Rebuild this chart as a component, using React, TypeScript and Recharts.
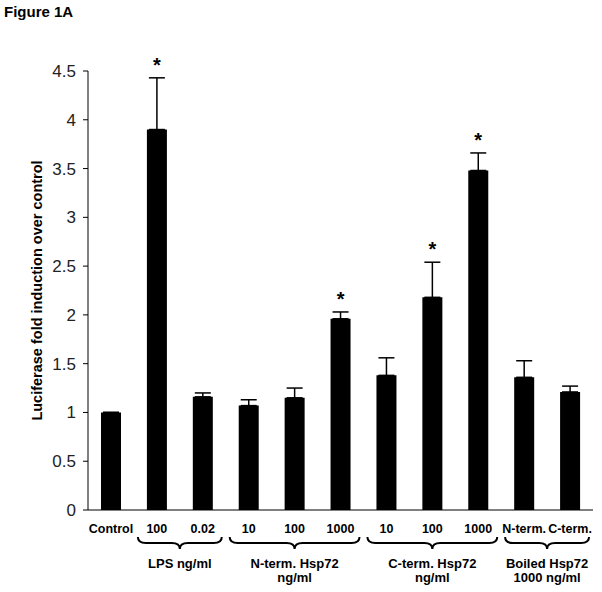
import { BarChart, Bar, XAxis, YAxis, ErrorBar, LabelList, Label } from "recharts";

const categories = ["Control", "100", "0.02", "10", "100", "1000", "10", "100", "1000", "N-term.", "C-term."];
const means = [1.0, 3.9, 1.16, 1.07, 1.15, 1.96, 1.38, 2.18, 3.48, 1.36, 1.21];
const errors = [0, 0.53, 0.04, 0.06, 0.1, 0.07, 0.18, 0.36, 0.18, 0.17, 0.06];
const significant = [false, true, false, false, false, true, false, true, true, false, false];

const groups = [
  { first: 1, last: 2, lines: ["LPS ng/ml"] },
  { first: 3, last: 5, lines: ["N-term. Hsp72", "ng/ml"] },
  { first: 6, last: 8, lines: ["C-term. Hsp72", "ng/ml"] },
  { first: 9, last: 10, lines: ["Boiled Hsp72", "1000 ng/ml"] },
];

const yTicks = [0, 0.5, 1, 1.5, 2, 2.5, 3, 3.5, 4, 4.5];

const FONT = "Arial, 'Liberation Sans', sans-serif";
const W = 602;
const H = 592;
const M = { top: 71, right: 9, bottom: 2, left: 0 };
const Y_AXIS_W = 88;
const STEP = (W - M.left - M.right - Y_AXIS_W) / categories.length;

const data = categories.map((c, i) => ({
  id: i,
  name: c,
  mean: means[i],
  err: [0, errors[i]],
}));

function Brace({ x1, x2, y }: { x1: number; x2: number; y: number }) {
  const cx = (x1 + x2) / 2;
  const mid = y + 6;
  const tip = y + 12;
  const r = 8;
  const d = `M${x1},${y} Q${x1},${mid} ${x1 + r},${mid} L${cx - r},${mid} Q${cx},${mid} ${cx},${tip} Q${cx},${mid} ${cx + r},${mid} L${x2 - r},${mid} Q${x2},${mid} ${x2},${y}`;
  return <path d={d} fill="none" stroke="#000" strokeWidth={2} />;
}

function CategoryTick(props: any) {
  const { x, y, payload } = props;
  const i = payload.index ?? payload.value;
  const g = groups.find((gr) => gr.first === i);
  return (
    <g>
      <text x={x} y={y + 23} textAnchor="middle" fontFamily={FONT} fontWeight="bold" fontSize={12.5} fill="#000">
        {categories[i]}
      </text>
      {g && (
        <g>
          <Brace x1={x - 19} x2={x + (g.last - g.first) * STEP + 19} y={y + 27} />
          {g.lines.map((line, k) => (
            <text
              key={k}
              x={x + ((g.last - g.first) * STEP) / 2}
              y={y + 58 + k * 14}
              textAnchor="middle"
              fontFamily={FONT}
              fontWeight="bold"
              fontSize={13}
              fill="#000"
            >
              {line}
            </text>
          ))}
        </g>
      )}
    </g>
  );
}

function Star(props: any) {
  const { x, y, width, height, value, index } = props;
  if (!significant[index]) return null;
  const perUnit = height / value;
  const top = y - errors[index] * perUnit;
  return (
    <text x={x + width / 2} y={top - 6} textAnchor="middle" fontFamily={FONT} fontWeight="bold" fontSize={20} fill="#000">
      *
    </text>
  );
}

export default function App() {
  return (
    <div style={{ position: "absolute", left: 0, top: 0, width: W, height: H, background: "#fff" }}>
      <div
        style={{
          position: "absolute",
          left: 4,
          top: 3,
          fontFamily: FONT,
          fontWeight: "bold",
          fontSize: 15,
          color: "#000",
        }}
      >
        Figure 1A
      </div>
      <BarChart width={W} height={H} data={data} margin={M} barSize={20}>
        <XAxis
          dataKey="id"
          height={80}
          interval={0}
          tickLine={false}
          tickSize={0}
          tickMargin={0}
          axisLine={{ stroke: "#000", strokeWidth: 1 }}
          tick={<CategoryTick />}
        />
        <YAxis
          width={Y_AXIS_W}
          domain={[0, 4.5]}
          ticks={yTicks}
          interval={0}
          tickSize={5}
          tickMargin={7}
          axisLine={{ stroke: "#000", strokeWidth: 1 }}
          tickLine={{ stroke: "#000" }}
          tick={{ fontFamily: FONT, fontSize: 17, fill: "#222" }}
        >
          <Label
            content={(p: any) => {
              const vb = p.viewBox;
              const cy = vb.y + vb.height / 2;
              return (
                <text
                  x={37}
                  y={cy}
                  transform={`rotate(-90, 37, ${cy})`}
                  textAnchor="middle"
                  dominantBaseline="central"
                  fontFamily={FONT}
                  fontWeight="bold"
                  fontSize={14.5}
                  fill="#000"
                >
                  Luciferase fold induction over control
                </text>
              );
            }}
          />
        </YAxis>
        <Bar dataKey="mean" fill="#000" isAnimationActive={false}>
          <ErrorBar dataKey="err" direction="y" width={8} stroke="#000" strokeWidth={1.5} />
          <LabelList dataKey="mean" content={<Star />} />
        </Bar>
      </BarChart>
    </div>
  );
}
